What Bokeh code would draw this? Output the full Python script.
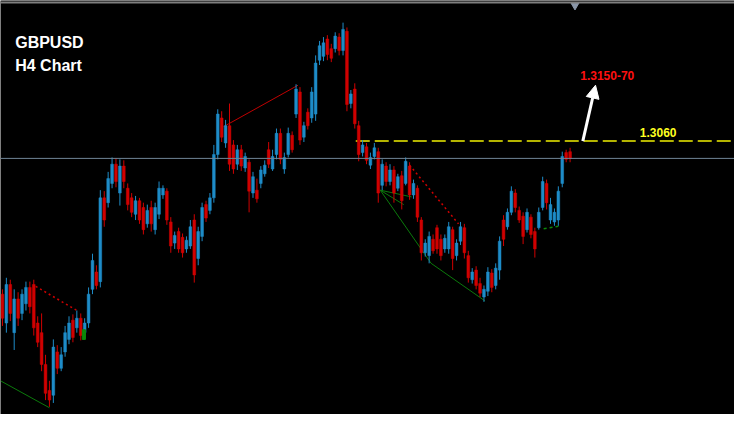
from bokeh.plotting import figure
from bokeh.models import Span, Arrow, NormalHead, Label, ColumnDataSource, Range1d
from bokeh.embed import file_html
from bokeh.resources import INLINE

# ---- OHLC data (GBPUSD, H4) ----
opens = [1.2901, 1.2871, 1.2911, 1.2861, 1.2896, 1.2881, 1.2891, 1.2908, 1.2911, 1.2871,
         1.2861, 1.2828, 1.2801, 1.2796, 1.2841, 1.2824, 1.2841, 1.2854, 1.2874, 1.2866,
         1.2876, 1.2861, 1.2871, 1.2906, 1.2924, 1.2914, 1.3001, 1.2996, 1.3016, 1.3036,
         1.3006, 1.3034, 1.3011, 1.3001, 1.2984, 1.2998, 1.2991, 1.2974, 1.2991, 1.2968,
         1.2984, 1.3004, 1.3008, 1.2976, 1.2954, 1.2966, 1.2960, 1.2948, 1.2951, 1.2978,
         1.2938, 1.2961, 1.2994, 1.2988, 1.3001, 1.3046, 1.3084, 1.3058, 1.3076, 1.3056,
         1.3036, 1.3051, 1.3032, 1.3038, 1.3006, 1.3009, 1.3016, 1.3026, 1.3051, 1.3031,
         1.3046, 1.3068, 1.3031, 1.3046, 1.3066, 1.3088, 1.3111, 1.3064, 1.3090, 1.3084,
         1.3088, 1.3144, 1.3148, 1.3166, 1.3156, 1.3156, 1.3168, 1.3154, 1.3174, 1.3099,
         1.3114, 1.3076, 1.3048, 1.3054, 1.3035, 1.3044, 1.3049, 1.3014, 1.3034, 1.3018,
         1.3030, 1.3011, 1.3024, 1.3016, 1.3034, 1.3004, 1.3011, 1.2978, 1.2944, 1.2941,
         1.2958, 1.2970, 1.2958, 1.2948, 1.2948, 1.2968, 1.2941, 1.2956, 1.2970, 1.2941,
         1.2916, 1.2926, 1.2912, 1.2898, 1.2904, 1.2923, 1.2910, 1.2926, 1.2978, 1.2971,
         1.2986, 1.3006, 1.2988, 1.2982, 1.2968, 1.2981, 1.2966, 1.2970, 1.2991, 1.3016,
         1.2978, 1.2976, 1.2978, 1.3016, 1.3048, 1.3049]
highs = [1.2906, 1.2918, 1.2916, 1.2906, 1.2903, 1.2906, 1.2914, 1.2914, 1.2916, 1.2878,
         1.2881, 1.2838, 1.2811, 1.2854, 1.2848, 1.2846, 1.2868, 1.2878, 1.2880, 1.2884,
         1.2881, 1.2876, 1.2908, 1.2943, 1.2931, 1.3009, 1.3008, 1.3028, 1.3043, 1.3042,
         1.3041, 1.3040, 1.3016, 1.3006, 1.3003, 1.3001, 1.2996, 1.2994, 1.2998, 1.2996,
         1.3018, 1.3014, 1.3011, 1.2981, 1.2966, 1.2970, 1.2964, 1.2961, 1.2978, 1.2984,
         1.2971, 1.2996, 1.2998, 1.3006, 1.3056, 1.3093, 1.3091, 1.3082, 1.3099, 1.3061,
         1.3056, 1.3056, 1.3048, 1.3041, 1.3028, 1.3021, 1.3034, 1.3040, 1.3059, 1.3051,
         1.3073, 1.3073, 1.3048, 1.3074, 1.3070, 1.3119, 1.3116, 1.3080, 1.3094, 1.3116,
         1.3149, 1.3164, 1.3168, 1.3170, 1.3161, 1.3173, 1.3172, 1.3183, 1.3178, 1.3113,
         1.3120, 1.3081, 1.3061, 1.3058, 1.3048, 1.3058, 1.3053, 1.3041, 1.3038, 1.3036,
         1.3034, 1.3026, 1.3029, 1.3043, 1.3038, 1.3020, 1.3014, 1.2981, 1.2958, 1.2966,
         1.2963, 1.2973, 1.2963, 1.2963, 1.2976, 1.2971, 1.2958, 1.2976, 1.2974, 1.2946,
         1.2928, 1.2930, 1.2918, 1.2910, 1.2929, 1.2927, 1.2933, 1.2961, 1.2983, 1.2990,
         1.3013, 1.3010, 1.2992, 1.2986, 1.2990, 1.2984, 1.2970, 1.2991, 1.3023, 1.3020,
         1.3001, 1.2990, 1.3013, 1.3049, 1.3051, 1.3053]
lows = [1.2868, 1.2861, 1.2873, 1.2843, 1.2868, 1.2874, 1.2884, 1.2881, 1.2858, 1.2846,
        1.2821, 1.2791, 1.2784, 1.2788, 1.2818, 1.2821, 1.2836, 1.2849, 1.2851, 1.2861,
        1.2853, 1.2858, 1.2866, 1.2901, 1.2906, 1.2908, 1.2971, 1.2991, 1.3011, 1.3012,
        1.2993, 1.3011, 1.2988, 1.2981, 1.2978, 1.2974, 1.2963, 1.2970, 1.2966, 1.2963,
        1.2979, 1.3000, 1.2973, 1.2944, 1.2948, 1.2944, 1.2939, 1.2944, 1.2948, 1.2913,
        1.2931, 1.2956, 1.2976, 1.2984, 1.2996, 1.3041, 1.3059, 1.3053, 1.3029, 1.3026,
        1.3030, 1.3029, 1.3028, 1.2986, 1.3001, 1.2996, 1.3011, 1.3023, 1.3032, 1.3029,
        1.3041, 1.3036, 1.3026, 1.3043, 1.3048, 1.3084, 1.3056, 1.3059, 1.3072, 1.3079,
        1.3081, 1.3139, 1.3143, 1.3144, 1.3142, 1.3152, 1.3149, 1.3149, 1.3091, 1.3094,
        1.3073, 1.3039, 1.3044, 1.3036, 1.3031, 1.3041, 1.2996, 1.3009, 1.3013, 1.3014,
        1.2996, 1.3008, 1.2989, 1.3014, 1.2999, 1.3000, 1.2976, 1.2936, 1.2940, 1.2933,
        1.2943, 1.2943, 1.2936, 1.2944, 1.2943, 1.2926, 1.2936, 1.2952, 1.2938, 1.2913,
        1.2912, 1.2906, 1.2898, 1.2893, 1.2899, 1.2903, 1.2906, 1.2916, 1.2951, 1.2968,
        1.2983, 1.2986, 1.2975, 1.2953, 1.2965, 1.2959, 1.2939, 1.2968, 1.2988, 1.2989,
        1.2974, 1.2972, 1.2972, 1.3012, 1.3038, 1.3038]
closes = [1.2876, 1.2911, 1.2881, 1.2896, 1.2876, 1.2901, 1.2908, 1.2888, 1.2866, 1.2851,
          1.2828, 1.2798, 1.2791, 1.2846, 1.2824, 1.2838, 1.2861, 1.2871, 1.2856, 1.2876,
          1.2858, 1.2871, 1.2901, 1.2936, 1.2910, 1.3001, 1.2978, 1.3021, 1.3036, 1.3018,
          1.3034, 1.3018, 1.2994, 1.2986, 1.2998, 1.2978, 1.2968, 1.2988, 1.2974, 1.2991,
          1.3011, 1.3011, 1.2978, 1.2951, 1.2962, 1.2948, 1.2944, 1.2957, 1.2971, 1.2921,
          1.2966, 1.2991, 1.2980, 1.3001, 1.3046, 1.3088, 1.3064, 1.3076, 1.3036, 1.3031,
          1.3051, 1.3034, 1.3044, 1.3008, 1.3023, 1.3000, 1.3030, 1.3035, 1.3036, 1.3044,
          1.3068, 1.3041, 1.3043, 1.3068, 1.3051, 1.3114, 1.3061, 1.3076, 1.3076, 1.3111,
          1.3141, 1.3159, 1.3162, 1.3150, 1.3146, 1.3169, 1.3154, 1.3176, 1.3098, 1.3109,
          1.3078, 1.3046, 1.3056, 1.3040, 1.3043, 1.3053, 1.3006, 1.3036, 1.3018, 1.3030,
          1.3006, 1.3023, 1.2998, 1.3039, 1.3004, 1.3016, 1.2981, 1.2944, 1.2954, 1.2961,
          1.2946, 1.2948, 1.2941, 1.2959, 1.2971, 1.2938, 1.2954, 1.2971, 1.2944, 1.2918,
          1.2924, 1.2910, 1.2902, 1.2906, 1.2924, 1.2908, 1.2928, 1.2956, 1.2958, 1.2986,
          1.3008, 1.2991, 1.2978, 1.2961, 1.2986, 1.2963, 1.2948, 1.2986, 1.3018, 1.2996,
          1.2994, 1.2986, 1.3008, 1.3044, 1.3041, 1.3042]

# ---- annotation data ----
pair_label = "GBPUSD"
tf_label = "H4 Chart"
level_price = 1.3060
level_start = 90.25
level_text = "1.3060"
target_text = "1.3150-70"
arrow_from = (148.25, 1.3060)
arrow_to = (151.5, 1.3118)
target_pos = (154.5, 1.3128)
level_text_pos = (167.5, 1.3069)
title_pos = [(3.25, 1.3162), (3.25, 1.3139)]

red_trend_x = [[56.5, 75.5]]
red_trend_y = [[1.3075, 1.3118]]
red_dotted_x = [[8.5, 19.5], [104.0, 116.5]]
red_dotted_y = [[1.2909, 1.2883], [1.3035, 1.2974]]
green_x = [[-0.5, 12.0], [96.5, 109.5, 123.25], [96.5, 104.5], [96.5, 102.5]]
green_y = [[1.2811, 1.2783], [1.3009, 1.2933, 1.2894], [1.3009, 1.3002], [1.3009, 1.2994]]
green_dotted_x = [[138.25, 142.75]]
green_dotted_y = [[1.2969, 1.2972]]
signal_idx = [20.8]
signal_top = [1.2864]
signal_bottom = [1.2854]

BLUE = "#1E8CC8"
RED = "#D00000"

n = len(closes)
idx = list(range(n))
colors = [BLUE if c >= o else RED for o, c in zip(opens, closes)]
body_top = [max(o, c) for o, c in zip(opens, closes)]
body_bot = [min(o, c) for o, c in zip(opens, closes)]
src = ColumnDataSource(dict(x=idx, o=opens, h=highs, l=lows, c=closes,
                            top=body_top, bot=body_bot, color=colors))

p = figure(width=734, height=414, output_backend="svg", toolbar_location=None,
           x_range=Range1d(-0.5, 187.0), y_range=Range1d(1.2776, 1.3206),
           background_fill_color="black", border_fill_color="black",
           min_border=0, outline_line_color=None)
p.axis.visible = False
p.xgrid.visible = False
p.ygrid.visible = False

# top frame line + shift marker
p.add_layout(Span(location=1.3204, dimension="width", line_color="#7f7f7f", line_width=2))
p.scatter([146.25], [1.3201], marker="inverted_triangle", size=8, color="#8a96a8")

# current price line
p.add_layout(Span(location=closes[-1], dimension="width", line_color="#6f8496", line_width=1))

# level line
p.segment(x0=[level_start], y0=[level_price], x1=[187.0], y1=[level_price],
          line_color="#B4B400", line_width=2, line_dash="14 5")

# trend lines
p.multi_line(red_trend_x, red_trend_y, line_color="#C00000", line_width=1)
p.multi_line(red_dotted_x, red_dotted_y, line_color="#D00000", line_width=1.5, line_dash="2 3")
p.multi_line(green_x, green_y, line_color="#0B7A0B", line_width=1)
p.multi_line(green_dotted_x, green_dotted_y, line_color="#0B8A0B", line_width=1.5, line_dash="3 3")

# candles
p.segment(x0="x", y0="h", x1="x", y1="l", color="color", line_width=1, source=src)
p.vbar(x="x", top="top", bottom="bot", width=0.7, fill_color="color", line_color="color",
       line_width=0.5, source=src)

# green signal mark
p.vbar(x=signal_idx, top=signal_top, bottom=signal_bottom, width=0.8,
       fill_color="#0A8A0A", line_color="#0A8A0A")

# arrow and labels
p.add_layout(Arrow(end=NormalHead(size=13, fill_color="white", line_color="white"),
                   x_start=arrow_from[0], y_start=arrow_from[1],
                   x_end=arrow_to[0], y_end=arrow_to[1],
                   line_color="white", line_width=3))

p.add_layout(Label(x=target_pos[0], y=target_pos[1], text=target_text, text_color="#FF1010",
                   text_font="Liberation Sans", text_font_style="bold", text_font_size="12px",
                   text_align="center", text_baseline="middle"))
p.add_layout(Label(x=level_text_pos[0], y=level_text_pos[1], text=level_text, text_color="#FFFF20",
                   text_font="Liberation Sans", text_font_style="bold", text_font_size="12px",
                   text_align="center", text_baseline="middle"))
for (tx, ty), txt in zip(title_pos, [pair_label, tf_label]):
    p.add_layout(Label(x=tx, y=ty, text=txt, text_color="white",
                       text_font="Liberation Sans", text_font_style="bold", text_font_size="16px",
                       text_align="left", text_baseline="middle"))

open("out.html", "w").write(file_html(p, INLINE))
